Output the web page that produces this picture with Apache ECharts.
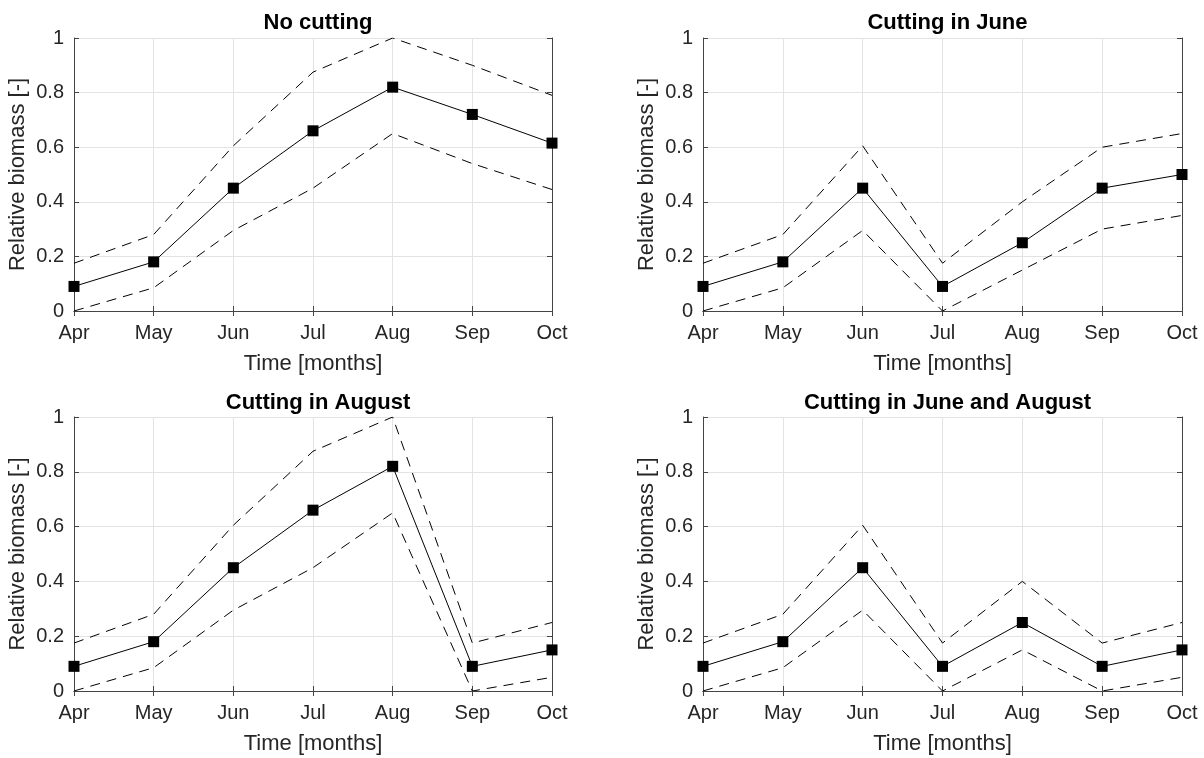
<!DOCTYPE html>
<html>
<head>
<meta charset="utf-8">
<script src="https://cdn.jsdelivr.net/npm/echarts@6/dist/echarts.min.js"></script>
<style>
html,body{margin:0;padding:0;background:#fff;}
#chart{width:1204px;height:758px;}
</style>
</head>
<body>
<div id="chart"></div>
<script>
// ---- data ----
var months = ['Apr', 'May', 'Jun', 'Jul', 'Aug', 'Sep', 'Oct'];
var titles = ['No cutting', 'Cutting in June', 'Cutting in August', 'Cutting in June and August'];
var yTicks = [0, 0.2, 0.4, 0.6, 0.8, 1];

var noCutMean  = [0.09, 0.18, 0.45, 0.66, 0.82, 0.72, 0.615];
var noCutUpper = [0.175, 0.28, 0.605, 0.875, 1.0, 0.90, 0.79];
var noCutLower = [0.0, 0.085, 0.295, 0.45, 0.65, 0.54, 0.445];

var juneMean  = [0.09, 0.18, 0.45, 0.09, 0.25, 0.45, 0.50];
var juneUpper = [0.175, 0.28, 0.605, 0.175, 0.40, 0.60, 0.65];
var juneLower = [0.0, 0.085, 0.295, 0.0, 0.15, 0.30, 0.35];

var augMean  = [0.09, 0.18, 0.45, 0.66, 0.82, 0.09, 0.15];
var augUpper = [0.175, 0.28, 0.605, 0.875, 1.0, 0.175, 0.25];
var augLower = [0.0, 0.085, 0.295, 0.45, 0.65, 0.0, 0.05];

var bothMean  = [0.09, 0.18, 0.45, 0.09, 0.25, 0.09, 0.15];
var bothUpper = [0.175, 0.28, 0.605, 0.175, 0.40, 0.175, 0.25];
var bothLower = [0.0, 0.085, 0.295, 0.0, 0.15, 0.0, 0.05];

var panels = [
  {mean: noCutMean, upper: noCutUpper, lower: noCutLower},
  {mean: juneMean, upper: juneUpper, lower: juneLower},
  {mean: augMean, upper: augUpper, lower: augLower},
  {mean: bothMean, upper: bothUpper, lower: bothLower}
];

// ---- layout ----
var gridBoxes = [
  {left: 74, top: 38, width: 478, height: 273},
  {left: 703, top: 38, width: 479, height: 273},
  {left: 74, top: 417, width: 478, height: 274},
  {left: 703, top: 417, width: 479, height: 274}
];
var titleTops = [7, 7, 387, 387];

var FONT = '"Liberation Sans", Arial, Helvetica, sans-serif';
var AX = '#262626';
var AXLINE = '#444444';
var GRIDC = '#e3e3e3';

var option = {
  animation: false,
  backgroundColor: '#fff',
  title: [], grid: [], xAxis: [], yAxis: [], series: []
};

gridBoxes.forEach(function (g, i) {
  option.grid.push({left: g.left, top: g.top, width: g.width, height: g.height, containLabel: false});
  option.title.push({
    text: titles[i], left: g.left + g.width / 2, top: titleTops[i], textAlign: 'center',
    textStyle: {fontFamily: FONT, fontSize: 22, fontWeight: 'bold', color: '#000'}
  });
  // bottom x axis
  option.xAxis.push({
    type: 'category', gridIndex: i, data: months, boundaryGap: false, position: 'bottom',
    name: 'Time [months]', nameLocation: 'middle', nameGap: 42,
    nameTextStyle: {fontFamily: FONT, fontSize: 22, color: AX},
    axisLine: {show: true, lineStyle: {color: AXLINE, width: 1}},
    axisTick: {show: true, inside: true, length: 5, alignWithLabel: true, lineStyle: {color: AXLINE}},
    axisLabel: {show: true, margin: 12, fontFamily: FONT, fontSize: 20, color: AX, interval: 0, showMinLabel: true, showMaxLabel: true},
    splitLine: {show: true, lineStyle: {color: GRIDC, width: 1}}
  });
  // top x axis (box)
  option.xAxis.push({
    type: 'category', gridIndex: i, data: months, boundaryGap: false, position: 'top',
    axisLine: {show: true, lineStyle: {color: AXLINE, width: 1}},
    axisTick: {show: true, inside: true, length: 5, lineStyle: {color: AXLINE}},
    axisLabel: {show: false}, splitLine: {show: false}
  });
  // left y axis
  option.yAxis.push({
    type: 'value', gridIndex: i, min: 0, max: 1, interval: 0.2, position: 'left',
    name: 'Relative biomass [-]', nameLocation: 'middle', nameGap: 45, nameRotate: 90,
    nameTextStyle: {fontFamily: FONT, fontSize: 22, color: AX},
    axisLine: {show: true, lineStyle: {color: AXLINE, width: 1}},
    axisTick: {show: true, inside: true, length: 5, lineStyle: {color: AXLINE}},
    axisLabel: {show: true, margin: 10, fontFamily: FONT, fontSize: 20, color: AX,
      formatter: function (v) { var s = yTicks.filter(function(t){return Math.abs(t - v) < 1e-9;}); return s.length ? String(s[0]) : ''; }},
    splitLine: {show: true, lineStyle: {color: GRIDC, width: 1}}
  });
  // right y axis (box)
  option.yAxis.push({
    type: 'value', gridIndex: i, min: 0, max: 1, interval: 0.2, position: 'right',
    axisLine: {show: true, lineStyle: {color: AXLINE, width: 1}},
    axisTick: {show: true, inside: true, length: 5, lineStyle: {color: AXLINE}},
    axisLabel: {show: false}, splitLine: {show: false}
  });

  var p = panels[i];
  var xi = i * 2, yi = i * 2;
  option.series.push({
    type: 'line', xAxisIndex: xi, yAxisIndex: yi, data: p.upper, silent: true,
    symbol: 'none', lineStyle: {color: '#000', width: 1, type: [10, 7]}, z: 3
  });
  option.series.push({
    type: 'line', xAxisIndex: xi, yAxisIndex: yi, data: p.lower, silent: true,
    symbol: 'none', lineStyle: {color: '#000', width: 1, type: [10, 7]}, z: 3
  });
  option.series.push({
    type: 'line', xAxisIndex: xi, yAxisIndex: yi, data: p.mean, silent: true,
    symbol: 'rect', symbolSize: 11, itemStyle: {color: '#000'},
    lineStyle: {color: '#000', width: 1}, z: 4
  });
});

var chart = echarts.init(document.getElementById('chart'), null, {renderer: 'canvas'});
chart.setOption(option);
</script>
</body>
</html>
